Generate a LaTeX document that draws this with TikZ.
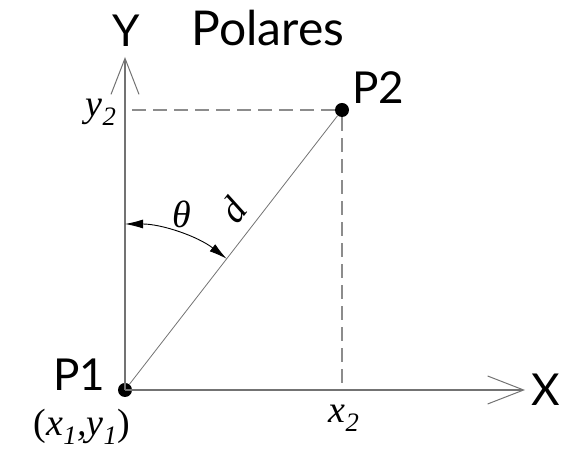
\documentclass[tikz,border=0pt]{standalone}
\usepackage{fontspec}
\setsansfont{Lato}
\newfontfamily\tms{Liberation Serif}
\usetikzlibrary{arrows.meta, positioning, calc}

\begin{document}
\begin{tikzpicture}[x=1pt, y=1pt,
    axis/.style={draw=black!55, line width=1.6pt, -{Straight Barb[length=36pt, width=28pt, line width=1pt]}},
    guide/.style={draw=black!45, line width=1.2pt, dash pattern=on 14pt off 7pt},
    lbl/.style={font=\sffamily\fontsize{44}{44}\selectfont, inner sep=0pt},
    coord/.style={font=\tms\itshape\fontsize{38}{38}\selectfont, inner sep=0pt},
    dot/.style={circle, fill=black, minimum size=14pt, inner sep=0pt}]
    \useasboundingbox (0,0) rectangle (582,457);
    \node[dot] (p1) at (125,67) {};
    \node[dot] (p2) at (342,347) {};
    \coordinate (ytip) at (125,400);
    \coordinate (xtip) at (525,67);
    \coordinate (yfoot) at (p1 |- p2);
    \coordinate (xfoot) at (p2 |- p1);
    % guides and radius
    \draw[guide] (p2) -- (yfoot);
    \draw[guide] (p2) -- (xfoot);
    \draw[draw=black!55, line width=0.8pt] (p1) -- (p2);
    \draw[axis] (p1.center) -- (ytip);
    \draw[axis] (p1.center) -- (xtip);
    \draw[{Latex[length=18pt,width=9pt]}-{Latex[length=18pt,width=9pt]}, line width=0.9pt]
        ($(p1)+(0,166)$) arc[start angle=90, end angle=52.2, radius=166pt];
    % labels
    \node[lbl, font=\sffamily\fontsize{48}{48}\selectfont] (title) at (268,429) {Polares};
    \node[lbl] (ylab) at (126,426) {Y};
    \node[lbl] (xlab) at (546,67) {X};
    \node[lbl, above right=1pt and 5pt of p2] (p2lab) {P2};
    \node[lbl] (p1lab) at (79,82) {P1};
    \node[coord] (p1xy) at (82,30) {{\upshape(}x\textsubscript{1},y\textsubscript{1}{\upshape)}};
    \node[coord] (x2lab) at (344,39) {x\textsubscript{2}};
    \node[coord] (y2lab) at (101,345) {y\textsubscript{2}};
    \node[coord] (theta) at (182,243) {θ};
    \node[coord, rotate=52.2] (dlab) at (233,247) {d};
\end{tikzpicture}
\end{document}
